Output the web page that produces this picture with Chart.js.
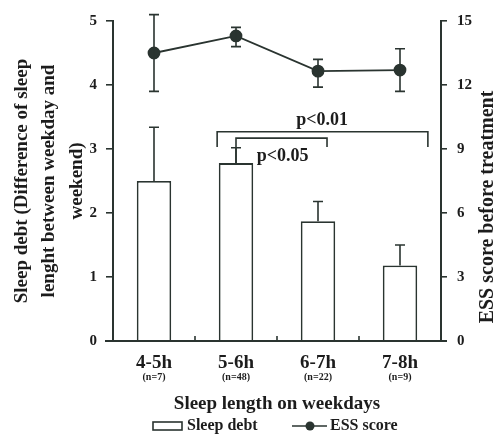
<!DOCTYPE html>
<html>
<head>
<meta charset="utf-8">
<script src="https://cdn.jsdelivr.net/npm/chart.js@4/dist/chart.umd.min.js"></script>
<style>
  html, body { margin: 0; padding: 0; background: #ffffff; }
  #wrap { width: 496px; height: 438px; position: relative; }
</style>
</head>
<body>
<div id="wrap"><canvas id="c" width="496" height="438"></canvas></div>
<script>
// ---- data ----
const categories = ['4-5h', '5-6h', '6-7h', '7-8h'];
const sampleSizes = ['(n=7)', '(n=48)', '(n=22)', '(n=9)'];
const sleepDebt = [2.5, 2.78, 1.87, 1.18];
const sleepDebtErrUpper = [3.34, 3.02, 2.18, 1.5];
const essScore = [13.5, 14.3, 12.65, 12.7];
const essErrUpper = [15.3, 14.7, 13.2, 13.7];
const essErrLower = [11.7, 13.8, 11.9, 11.7];
const leftTicks = [0, 1, 2, 3, 4, 5];
const rightTicks = [0, 3, 6, 9, 12, 15];
// significance brackets (category index / left-axis value units)
const bracketLabels = ['p<0.01', 'p<0.05'];
const bracketFrom = [0.77, 1.0];
const bracketTo = [3.34, 2.11];
const bracketLevel = [3.27, 3.17];
const bracketLeftEnd = [3.03, 2.78];
const bracketRightEnd = [3.03, 3.03];
const bracketTextX = [2.05, 1.57];
const bracketTextY = [3.45, 2.88];

const INK = '#2a3430';
const TXT = '#1c1c1c';
const SERIF = '"Liberation Serif", "Times New Roman", serif';

const overlay = {
  id: 'overlay',
  afterDatasetsDraw(chart) {
    const ctx = chart.ctx;
    const x = chart.scales.x, y = chart.scales.y, y2 = chart.scales.y2;
    const area = chart.chartArea;
    ctx.save();
    ctx.strokeStyle = INK;
    ctx.lineWidth = 1.6;
    const cap = 5;
    // extend x axis line slightly beyond the plot area
    ctx.beginPath();
    ctx.lineWidth = 2;
    ctx.moveTo(area.left - 8, area.bottom); ctx.lineTo(area.right + 6, area.bottom);
    ctx.stroke();
    ctx.lineWidth = 1.6;
    // bar error bars (upper only)
    sleepDebt.forEach((v, i) => {
      const px = x.getPixelForValue(i);
      const top = y.getPixelForValue(sleepDebtErrUpper[i]);
      const base = y.getPixelForValue(v);
      ctx.beginPath();
      ctx.moveTo(px, base); ctx.lineTo(px, top);
      ctx.moveTo(px - cap, top); ctx.lineTo(px + cap, top);
      ctx.stroke();
    });
    // ESS error bars
    essScore.forEach((v, i) => {
      const px = x.getPixelForValue(i);
      const t = y2.getPixelForValue(essErrUpper[i]);
      const b = y2.getPixelForValue(essErrLower[i]);
      ctx.beginPath();
      ctx.moveTo(px, t); ctx.lineTo(px, b);
      ctx.moveTo(px - cap, t); ctx.lineTo(px + cap, t);
      ctx.moveTo(px - cap, b); ctx.lineTo(px + cap, b);
      ctx.stroke();
    });
    // brackets
    bracketLabels.forEach((lab, i) => {
      const x1 = x.getPixelForValue(bracketFrom[i]);
      const x2 = x.getPixelForValue(bracketTo[i]);
      const yl = y.getPixelForValue(bracketLevel[i]);
      ctx.beginPath();
      ctx.moveTo(x1, y.getPixelForValue(bracketLeftEnd[i]));
      ctx.lineTo(x1, yl);
      ctx.lineTo(x2, yl);
      ctx.lineTo(x2, y.getPixelForValue(bracketRightEnd[i]));
      ctx.stroke();
      ctx.fillStyle = TXT;
      ctx.font = 'bold 18px ' + SERIF;
      ctx.textAlign = 'center';
      ctx.textBaseline = 'middle';
      ctx.fillText(lab, x.getPixelForValue(bracketTextX[i]), y.getPixelForValue(bracketTextY[i]));
    });
    // inward minor ticks between categories on x axis
    for (let i = 0; i < categories.length - 1; i++) {
      const px = (x.getPixelForValue(i) + x.getPixelForValue(i + 1)) / 2;
      ctx.beginPath();
      ctx.moveTo(px, area.bottom); ctx.lineTo(px, area.bottom - 5);
      ctx.stroke();
    }
    // sample sizes under category labels
    ctx.fillStyle = TXT;
    ctx.font = 'bold 10px ' + SERIF;
    ctx.textAlign = 'center';
    ctx.textBaseline = 'middle';
    sampleSizes.forEach((s, i) => {
      ctx.fillText(s, x.getPixelForValue(i), area.bottom + 36);
    });
    // right axis title (reads bottom to top)
    ctx.save();
    ctx.translate(488, (area.top + area.bottom) / 2 + 26);
    ctx.rotate(-Math.PI / 2);
    ctx.font = 'bold 20px ' + SERIF;
    ctx.fillText('ESS score before treatment', 0, 0);
    ctx.restore();
    // legend
    const ly = 426;
    const cx = (area.left + area.right) / 2;
    ctx.lineWidth = 1.6;
    ctx.strokeRect(cx - 124, ly - 4, 29, 8);
    ctx.font = 'bold 16px ' + SERIF;
    ctx.textAlign = 'left';
    ctx.fillText('Sleep debt', cx - 90, ly);
    ctx.beginPath();
    ctx.moveTo(cx + 15, ly); ctx.lineTo(cx + 50, ly);
    ctx.stroke();
    ctx.beginPath();
    ctx.arc(cx + 33, ly, 4.5, 0, Math.PI * 2);
    ctx.fillStyle = INK;
    ctx.fill();
    ctx.fillStyle = TXT;
    ctx.fillText('ESS score', cx + 53, ly);
    ctx.restore();
  }
};

new Chart(document.getElementById('c'), {
  data: {
    labels: categories,
    datasets: [
      {
        type: 'line',
        label: 'ESS score',
        data: essScore,
        yAxisID: 'y2',
        borderColor: INK,
        borderWidth: 1.8,
        pointRadius: 5.5,
        pointBackgroundColor: INK,
        pointBorderColor: INK,
        tension: 0,
        order: 0
      },
      {
        type: 'bar',
        label: 'Sleep debt',
        data: sleepDebt,
        yAxisID: 'y',
        backgroundColor: '#ffffff',
        borderColor: INK,
        borderWidth: 1.8,
        barPercentage: 0.42,
        categoryPercentage: 1,
        order: 1
      }
    ]
  },
  options: {
    responsive: false,
    animation: false,
    events: [],
    layout: { padding: { top: 21, left: 0, right: 0, bottom: 0 } },
    plugins: { legend: { display: false }, tooltip: { enabled: false } },
    scales: {
      x: {
        type: 'category',
        offset: true,
        grid: { display: false },
        border: { display: true, color: INK, width: 2 },
        ticks: { color: TXT, font: { family: SERIF, size: 19, weight: 'bold' }, padding: 3 },
        title: { display: true, text: 'Sleep length on weekdays', color: TXT,
                 font: { family: SERIF, size: 19, weight: 'bold' }, padding: { top: 0, bottom: 23 } },
        afterFit(s) { s.height = 97; }
      },
      y: {
        position: 'left',
        min: 0, max: 5,
        afterBuildTicks(s) { s.ticks = leftTicks.map(v => ({ value: v })); },
        grid: { drawOnChartArea: false, drawTicks: true, tickLength: 7, color: INK, lineWidth: 1.6 },
        border: { display: true, color: INK, width: 2 },
        ticks: { color: TXT, font: { family: SERIF, size: 15, weight: 'bold' }, padding: 9 },
        title: { display: true, color: TXT,
                 text: ['Sleep debt (Difference of sleep', 'lenght between weekday and', 'weekend)'],
                 font: { family: SERIF, size: 19, weight: 'bold', lineHeight: 1.45 }, padding: { top: 8, bottom: 0 } },
        afterFit(s) { s.width = 113; }
      },
      y2: {
        position: 'right',
        min: 0, max: 15,
        afterBuildTicks(s) { s.ticks = rightTicks.map(v => ({ value: v })); },
        grid: { drawOnChartArea: false, drawTicks: true, tickLength: 6, color: INK, lineWidth: 1.6 },
        border: { display: true, color: INK, width: 2 },
        ticks: { color: TXT, font: { family: SERIF, size: 15, weight: 'bold' }, padding: 10 },
        afterFit(s) { s.width = 55; }
      }
    }
  },
  plugins: [overlay]
});
</script>
</body>
</html>
